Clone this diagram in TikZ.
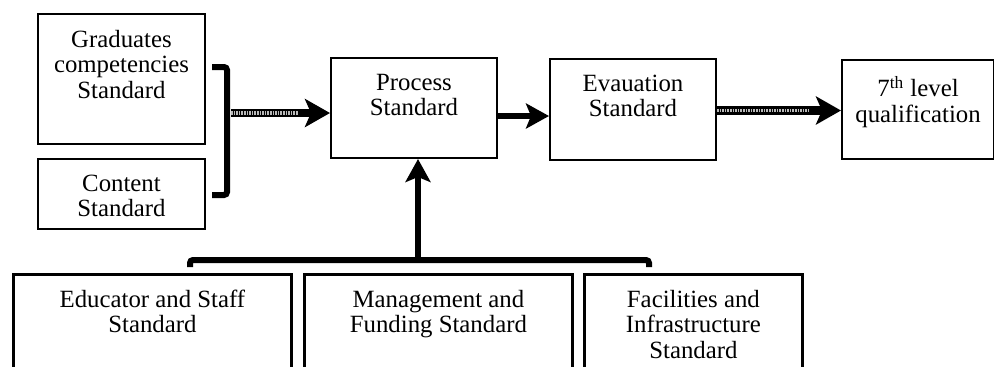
\documentclass[tikz,border=0pt]{standalone}
\usepackage{fontspec}
\setmainfont{Liberation Serif}
\usetikzlibrary{positioning,arrows.meta}

\begin{document}
\begin{tikzpicture}[x=0.5pt,y=-0.5pt,
stdblock/.style={draw,rectangle,anchor=north west,inner sep=0pt,line width=1pt},
lowblock/.style={stdblock,line width=1.4pt},
txt/.style={align=center,inner sep=0pt,font=\fontsize{12.4}{12.7}\selectfont},
fatarrow/.style={line width=4.2pt,-{Stealth[length=12.5pt,width=14pt,inset=3pt]}},
slimarrow/.style={line width=3.2pt,-{Stealth[length=11.5pt,width=12.5pt,inset=2.5pt]}},
texture/.style={draw=gray!55,line width=1.6pt,dash pattern=on 0.8pt off 0.5pt},
bracket/.style={line width=3pt,rounded corners=1.5pt}]

\clip (0,0) rectangle (994,366);

% upper row
\node[stdblock,minimum width=83.5pt,minimum height=65pt] (grad) at (37,13) {};
\node[stdblock,minimum width=83.5pt,minimum height=35pt] (cont) at (37,158) {};
\node[stdblock,minimum width=83pt,minimum height=50pt] (proc) at (330,57) {};
\node[stdblock,minimum width=83pt,minimum height=50.5pt] (eval) at (549,58) {};
\node[stdblock,minimum width=76pt,minimum height=49.5pt] (lvl) at (841,59) {};

\node[txt,below=8.3pt of grad.north] (gradT) {Graduates\\competencies\\Standard};
\node[txt,below=8.3pt of cont.north] (contT) {Content\\Standard};
\node[txt,below=8.3pt of proc.north] (procT) {Process\\Standard};
\node[txt,below=8.3pt of eval.north] (evalT) {Evauation\\Standard};
\node[txt,below=8.3pt of lvl.north] (lvlT) {7\textsuperscript{th} level\\qualification};

% lower row
\node[lowblock,minimum width=139pt,minimum height=60pt] (edu) at (12,273) {};
\node[lowblock,minimum width=134pt,minimum height=60pt] (mgmt) at (303,273) {};
\node[lowblock,minimum width=109pt,minimum height=60pt] (fac) at (583,273) {};

\node[txt,below=8.3pt of edu.north] (eduT) {Educator and Staff\\Standard};
\node[txt,below=8.3pt of mgmt.north] (mgmtT) {Management and\\Funding Standard};
\node[txt,below=8.3pt of fac.north] (facT) {Facilities and\\Infrastructure\\Standard};

% brackets
\draw[bracket] (212,67) -- (227,67) -- (227,195) -- (212,195);
\draw[bracket] (190,267) -- (190,260) -- (649,260) -- (649,267);

\coordinate (brk) at (231,113);
\coordinate (bb) at (418,260);

% arrows
\draw[fatarrow] (brk) -- (brk -| proc.west);
\draw[texture] (brk) -- ([xshift=-16pt]brk -| proc.west);
\draw[slimarrow] ([yshift=-4pt]proc.east) -- ([yshift=-4pt]proc.east -| eval.west);
\draw[fatarrow] ([yshift=-0.5pt]eval.east) -- ([yshift=-0.5pt]eval.east -| lvl.west);
\draw[texture] ([yshift=-0.5pt]eval.east) -- ([yshift=-0.5pt,xshift=-16pt]eval.east -| lvl.west);
\draw[slimarrow,line width=3pt] (bb) -- (bb |- proc.south);

\end{tikzpicture}
\end{document}
